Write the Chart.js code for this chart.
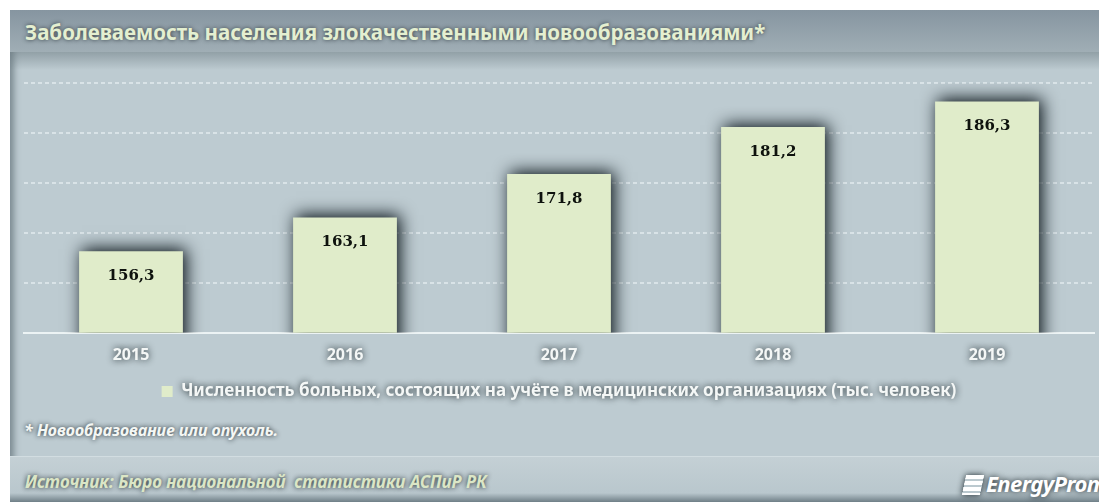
<!DOCTYPE html>
<html lang="ru">
<head>
<meta charset="utf-8">
<title>Заболеваемость населения злокачественными новообразованиями</title>
<script src="https://cdn.jsdelivr.net/npm/chart.js@4.4.1/dist/chart.umd.min.js"></script>
<style>
  html, body { margin: 0; padding: 0; background: #fff; }
  body { width: 1099px; height: 502px; position: relative; overflow: hidden; font-family: 'Noto Sans', 'DejaVu Sans', sans-serif; }
  .frame {
    position: absolute; left: 10px; top: 10px; right: 0; bottom: 0;
    background: #bdcbd1;
    box-shadow: inset 9px 0 6px -5px rgba(70, 85, 92, 0.55);
  }
  .head {
    position: absolute; left: 10px; top: 10px; right: 0; height: 42px;
    background: linear-gradient(#8695a0, #a0aeb5);
  }
  .head::after {
    content: ''; position: absolute; left: 0; right: 0; top: 42px; height: 18px;
    background: linear-gradient(rgba(110, 125, 132, 0.55), rgba(189, 203, 209, 0));
  }
  .title {
    position: absolute; left: 25px; top: 18px;
    font-weight: bold; font-size: 20.5px; color: #e4efd0; white-space: nowrap;
    text-shadow: 0 0 4px rgba(40, 50, 55, 0.9);
  }
  .note {
    position: absolute; left: 24px; top: 419px;
    font-weight: bold; font-style: italic; font-size: 16px; color: #f4f7f4; white-space: nowrap;
    text-shadow: 0 0 5px rgba(20, 30, 35, 0.95);
  }
  .foot {
    position: absolute; left: 10px; top: 456px; right: 0; bottom: 0;
    background: linear-gradient(#c4d0d5, #b9c7cd 80%, #6f7f87);
    border-top: 1px solid #d2dde1;
  }
  .source {
    position: absolute; left: 25px; top: 470px;
    font-weight: bold; font-style: italic; font-size: 17px; color: #dbe6c6; white-space: nowrap;
    text-shadow: 0 0 5px rgba(20, 30, 35, 0.95);
  }
  .logo {
    position: absolute; left: 964px; top: 468px;
    font-weight: bold; font-style: italic; font-size: 22px; color: #fff; white-space: nowrap;
    letter-spacing: -0.6px;
    text-shadow: 0 0 6px rgba(10, 20, 25, 1);
  }
  .logo i {
    display: inline-block; width: 18px; height: 20px; margin-right: 4px; vertical-align: -3px;
    background: repeating-linear-gradient(#fff 0 4px, transparent 4px 6px);
    transform: skewX(-12deg);
    box-shadow: 0 0 6px rgba(10, 20, 25, 0.9);
  }
  #chart-wrap { position: absolute; left: 10px; top: 52px; width: 1089px; height: 358px; }
</style>
</head>
<body>
<div class="frame"></div>
<div class="head"></div>
<div class="title">Заболеваемость населения злокачественными новообразованиями*</div>
<div id="chart-wrap"><canvas id="cancerChart"></canvas></div>
<div class="note">* Новообразование или опухоль.</div>
<div class="foot"></div>
<div class="source">Источник: Бюро национальной&nbsp; статистики АСПиР РК</div>
<div class="logo"><i></i>EnergyProm</div>

<script>
  // Годы и численность больных (тыс. человек)
  const years = ['2015', '2016', '2017', '2018', '2019'];
  const patients = [156.3, 163.1, 171.8, 181.2, 186.3];
  const seriesLabel = 'Численность больных, состоящих на учёте в медицинских организациях (тыс. человек)';

  // Тень под подписями осей и легенды
  const textShadow = {
    id: 'textShadow',
    beforeDraw(chart) {
      const ctx = chart.ctx;
      if (ctx.plainFillText) return;
      ctx.plainFillText = ctx.fillText;
      ctx.fillText = function () {
        this.save();
        this.shadowColor = 'rgba(15, 25, 30, 0.95)';
        this.shadowBlur = 7;
        this.plainFillText.apply(this, arguments);
        this.restore();
      };
    }
  };

  // Тёмная размытая тень вокруг столбцов
  const barShadow = {
    id: 'barShadow',
    beforeDatasetsDraw(chart) {
      const ctx = chart.ctx;
      ctx.save();
      ctx.shadowColor = 'rgba(5, 15, 20, 1)';
      ctx.shadowBlur = 16;
      ctx.shadowOffsetX = 3;
      ctx.shadowOffsetY = -2;
    },
    afterDatasetsDraw(chart) {
      chart.ctx.restore();
    }
  };

  // Значения внутри столбцов, с запятой
  const valueLabels = {
    id: 'valueLabels',
    afterDatasetsDraw(chart) {
      const ctx = chart.ctx;
      const meta = chart.getDatasetMeta(0);
      ctx.save();
      ctx.font = 'bold 15px "DejaVu Serif", serif';
      ctx.fillStyle = '#0e120d';
      ctx.textAlign = 'center';
      ctx.textBaseline = 'middle';
      meta.data.forEach((bar, i) => {
        const text = patients[i].toFixed(1).replace('.', ',');
        const draw = ctx.plainFillText || ctx.fillText;
        draw.call(ctx, text, bar.x, bar.y + 25);
      });
      ctx.restore();
    }
  };

  const ctx = document.getElementById('cancerChart').getContext('2d');
  const cancerChart = new Chart(ctx, {
    type: 'bar',
    data: {
      labels: years,
      datasets: [{
        label: seriesLabel,
        data: patients,
        backgroundColor: '#e0ecca',
        borderWidth: 0,
        barPercentage: 0.97,
        categoryPercentage: 0.5
      }]
    },
    options: {
      responsive: true,
      maintainAspectRatio: false,
      animation: false,
      layout: { padding: { left: 14, right: 5, top: 31, bottom: 0 } },
      scales: {
        x: {
          grid: { display: false },
          border: { color: 'rgba(238, 244, 246, 0.95)', width: 2 },
          ticks: {
            color: '#f4f7f6',
            padding: 5,
            font: { family: "'Noto Sans', sans-serif", weight: 'bold', size: 16 }
          }
        },
        y: {
          min: 140,
          max: 190,
          ticks: { display: false, stepSize: 10 },
          grid: {
            drawTicks: false,
            lineWidth: 2,
            color: c => c.tick.value === 140 ? 'rgba(0,0,0,0)' : 'rgba(232, 240, 243, 0.65)'
          },
          border: { display: false, dash: [4, 3] }
        }
      },
      plugins: {
        legend: {
          position: 'bottom',
          labels: {
            color: '#f4f7f6',
            boxWidth: 11,
            boxHeight: 11,
            padding: 13,
            font: { family: "'Noto Sans', sans-serif", weight: 'bold', size: 17 }
          }
        },
        tooltip: { enabled: false }
      }
    },
    plugins: [textShadow, barShadow, valueLabels]
  });
</script>
</body>
</html>
